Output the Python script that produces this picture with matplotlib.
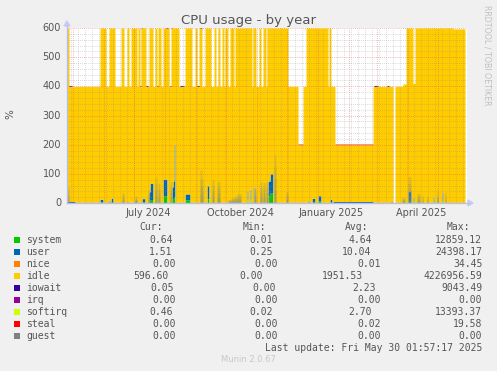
import numpy as np
import matplotlib
matplotlib.use("Agg")
import matplotlib.pyplot as plt
from matplotlib.patches import Rectangle, Polygon
from matplotlib.lines import Line2D
import datetime as dt

# ---------------- data (daily samples, day 0 = 2024-04-25) ----------------
N_DAYS = 400
START = dt.datetime(2024, 4, 25, 2, 0)

# stack-top level segments: (first_day, end_day, level)
level_segments = [
    (0, 2, 600), (2, 33, 400), (33, 39, 600), (39, 42, 400), (42, 48, 600),
    (48, 54, 400), (54, 57, 600), (57, 60, 400), (60, 62, 600), (62, 64, 400),
    (64, 70, 600), (70, 71, 400), (71, 73, 600), (73, 74, 400), (74, 79, 600),
    (79, 82, 400), (82, 86, 600), (86, 88, 400), (88, 90, 600), (90, 91, 400),
    (91, 94, 600), (94, 96, 400), (96, 102, 600), (102, 104, 400), (104, 112, 600),
    (112, 118, 400), (118, 125, 600), (125, 128, 400), (128, 130, 600), (130, 132, 400),
    (132, 135, 600), (135, 138, 400), (138, 144, 600), (144, 147, 400), (147, 149, 600),
    (149, 151, 400), (151, 153, 600), (153, 155, 400), (155, 157, 600), (157, 158, 400),
    (158, 161, 600), (161, 163, 400), (163, 167, 600), (167, 168, 400), (168, 185, 600),
    (185, 186, 400), (186, 189, 600), (189, 192, 400), (192, 194, 600), (194, 196, 400),
    (196, 199, 600), (199, 200, 400), (200, 221, 600), (221, 231, 400), (231, 236, 200),
    (236, 239, 400), (239, 261, 600), (261, 262, 400), (262, 264, 600), (264, 268, 400),
    (268, 306, 200), (306, 326, 400), (328, 336, 400), (336, 339, 406), (339, 346, 600),
    (346, 348, 410), (348, 386, 600), (386, 398, 597),
]

system_base = 0.8
user_base = 1.5
# (first_day, end_day, system, user)
spikes = [
    (0, 8, 1, 4), (33, 36, 4, 9), (42, 43, 2, 8), (44, 46, 3, 14), (60, 61, 1, 5),
    (68, 69, 2, 8), (75, 78, 4, 11), (82, 83, 8, 30), (83, 86, 12, 55),
    (96, 100, 25, 57), (105, 106, 15, 40), (106, 107, 15, 60), (107, 108, 20, 180),
    (118, 123, 11, 20), (140, 142, 14, 45), (180, 181, 10, 32), (183, 184, 10, 37),
    (187, 188, 12, 43), (201, 203, 25, 50), (203, 206, 34, 66), (241, 242, 2, 8),
    (245, 248, 4, 12), (251, 254, 7, 18), (263, 265, 3, 9), (266, 306, 1, 4),
    (324, 325, 1, 4), (341, 344, 9, 30), (346, 347, 4, 16), (366, 367, 4, 16),
    (370, 371, 5, 15), (375, 376, 8, 30),
]

# faded (blended) spikes: (first_day, end_day, height)
haze_spikes = [
    (0, 2, 56), (55, 57, 35), (68, 70, 24), (81, 83, 45), (88, 90, 90), (91, 93, 68),
    (103, 105, 73), (133, 135, 113), (135, 136, 80), (145, 147, 80), (150, 153, 73),
    (161, 164, 12), (164, 167, 18), (167, 170, 24), (170, 174, 33), (187, 189, 50),
    (193, 195, 73), (196, 198, 70), (199, 201, 73), (202, 203, 60), (207, 209, 165),
    (219, 221, 39), (335, 338, 20), (341, 344, 90), (350, 353, 33), (355, 356, 27),
    (360, 361, 27), (370, 371, 44), (378, 379, 39),
]

iowait_days = [2, 3, 4, 73, 74, 79, 80, 90, 99, 100, 103, 104, 113, 114, 115, 116,
               130, 131, 133, 134, 307, 308, 309, 310, 320, 321]
iowait_value = 3.0
softirq_days = [336, 337, 338, 360, 372, 380]
softirq_value = 3.0
steal_value = 2.0

# ---------------- build daily arrays ----------------
level = np.zeros(N_DAYS)
for a, b, v in level_segments:
    level[a:b] = v
valid = level > 0

system = np.where(valid, system_base, 0.0)
user = np.where(valid, user_base, 0.0)
for a, b, s, u in spikes:
    system[a:b] = s
    user[a:b] = u
nice = np.zeros(N_DAYS)
iowait = np.zeros(N_DAYS)
iowait[iowait_days] = iowait_value
irq = np.zeros(N_DAYS)
softirq = np.zeros(N_DAYS)
softirq[softirq_days] = softirq_value
steal = np.where(level == 200, steal_value, 0.0)
guest = np.zeros(N_DAYS)
idle = np.where(valid, level - system - user, 0.0)
haze = np.zeros(N_DAYS)
for a, b, h in haze_spikes:
    haze[a:b] = h

names = ["system", "user", "nice", "idle", "iowait", "irq", "softirq", "steal", "guest"]
colors = ["#00CC00", "#0066B3", "#FF8000", "#FFCC00", "#330099", "#990099",
          "#CCFF00", "#FF0000", "#808080"]
series = [system, user, nice, idle, iowait, irq, softirq, steal, guest]

cur = ["0.64", "1.51", "0.00", "596.60", "0.05", "0.00", "0.46", "0.00", "0.00"]
mins = ["0.01", "0.25", "0.00", "0.00", "0.00", "0.00", "0.02", "0.00", "0.00"]
avgs = ["4.64", "10.04", "0.01", "1951.53", "2.23", "0.00", "2.70", "0.02", "0.00"]
maxs = ["12859.12", "24398.17", "34.45", "4226956.59", "9043.49", "0.00",
        "13393.37", "19.58", "0.00"]

y_ticks = [0, 100, 200, 300, 400, 500, 600]
x_labels = ["July 2024", "October 2024", "January 2025", "April 2025"]
x_label_days = [81.5, 173.5, 264.5, 354.5]

# ---------------- figure ----------------
W, H = 497, 371
fig = plt.figure(figsize=(W / 100, H / 100), dpi=100)
fig.patch.set_facecolor("#F0F0F0")


def fx(x):
    return x / W


def fy(y):
    return 1 - y / H


L, R, T, B = 67, 467, 28, 203
ax = fig.add_axes([fx(L), fy(B), (R - L) / W, (B - T) / H])
ax.set_facecolor("white")
ax.set_xlim(0, N_DAYS)
ax.set_ylim(0, 600)
for s in ax.spines.values():
    s.set_visible(False)

edges = np.arange(N_DAYS + 1)


def ext(a):
    return np.append(a, a[-1])


base = np.zeros(N_DAYS)
for arr, col in zip(series, colors):
    top = base + arr
    ax.fill_between(edges, ext(base), ext(top), step="post", color=col,
                    linewidth=0, zorder=2)
    base = top

for frac in (1.0, 0.75, 0.5, 0.25):
    ax.fill_between(edges, 0, ext(haze * frac), step="post", color="#7A8C80",
                    alpha=0.22, linewidth=0, zorder=3)

# grid on top of data
grid_minor = dict(color="#8F8F8F", alpha=0.45, lw=0.6, dashes=(1, 1.5), zorder=5)
grid_major = dict(color="#E05050", alpha=0.55, lw=0.6, dashes=(1, 1.5), zorder=6)
for v in range(20, 600, 20):
    if v % 100:
        ax.axhline(v, **grid_minor)
for v in y_ticks[1:]:
    ax.axhline(v, **grid_major)

month_days = []
d = dt.datetime(2024, 5, 1)
while d < START + dt.timedelta(days=N_DAYS):
    month_days.append((d - START).total_seconds() / 86400)
    d = dt.datetime(d.year + (d.month // 12), d.month % 12 + 1, 1)
week_days = []
w = dt.datetime(2024, 4, 29)
while w < START + dt.timedelta(days=N_DAYS):
    week_days.append((w - START).total_seconds() / 86400)
    w += dt.timedelta(days=7)
for wd in week_days:
    ax.axvline(wd, **grid_minor)
for md in month_days:
    ax.axvline(md, **grid_major)

ax.set_xticks([])
ax.set_yticks([])

# axes lines + arrows
axis_col = "#B8BEE8"
fig.add_artist(Line2D([fx(L), fx(R + 2)], [fy(B), fy(B)], color=axis_col, lw=1))
fig.add_artist(Line2D([fx(L), fx(L)], [fy(B), fy(T - 3)], color=axis_col, lw=1))
fig.add_artist(Polygon([[fx(R + 6), fy(B)], [fx(R + 1), fy(B - 3)], [fx(R + 1), fy(B + 3)]],
                       closed=True, color="#C8CCF4", transform=fig.transFigure))
fig.add_artist(Polygon([[fx(L), fy(T - 7)], [fx(L - 3), fy(T - 2)], [fx(L + 3), fy(T - 2)]],
                       closed=True, color="#C8CCF4", transform=fig.transFigure))

txt = "#555555"
for v in y_ticks:
    yp = B - v / 600 * (B - T)
    fig.text(fx(61), fy(yp), str(v), ha="right", va="center", fontsize=7,
             color=txt, family="DejaVu Sans")
for lab, dd in zip(x_labels, x_label_days):
    fig.text(fx(L + dd), fy(212.5), lab, ha="center", va="center", fontsize=7,
             color=txt, family="DejaVu Sans")

fig.text(fx(248.5), fy(24), "CPU usage - by year", ha="center", va="baseline",
         fontsize=9.5, color=txt, family="DejaVu Sans")
fig.text(fx(10.5), fy(114), "%", ha="center", va="center", rotation=90, fontsize=7.5,
         color=txt, family="DejaVu Sans")
fig.text(fx(487.5), fy(5), "RRDTOOL / TOBI OETIKER", ha="center", va="top",
         rotation=270, fontsize=5.7, color="#C0C0C0", family="DejaVu Sans")

mono = "DejaVu Sans Mono"
fs = 7
hdr_y = 227.3
for lab, xr in zip(["Cur:", "Min:", "Avg:", "Max:"], [163.3, 266, 368.3, 470]):
    fig.text(fx(xr), fy(hdr_y), lab, ha="right", va="center", fontsize=fs,
             color=txt, family=mono)

row_y = [240, 252, 263.7, 275.7, 287.7, 299.7, 311.7, 323.7, 335.7]
cur_r = [172.7, 172.7, 175.7, 169, 174.3, 175.7, 172.7, 175.7, 175.7]
min_r = [272.7, 272.7, 278.3, 263.3, 275.7, 278.3, 272.7, 278.3, 278.3]
avg_r = [371.7, 371.7, 380.7, 363.3, 375.7, 380.7, 371.7, 380.7, 380.7]
max_r = [482.3] * 9
for i, nm in enumerate(names):
    yy = row_y[i]
    fig.add_artist(Rectangle((fx(14), fy(yy + 3)), 6 / W, 6 / H, color=colors[i],
                             transform=fig.transFigure, lw=0))
    fig.text(fx(26), fy(yy), nm, ha="left", va="center", fontsize=fs, color=txt, family=mono)
    for col, xr in ((cur, cur_r), (mins, min_r), (avgs, avg_r), (maxs, max_r)):
        fig.text(fx(xr[i]), fy(yy), col[i], ha="right", va="center", fontsize=fs,
                 color=txt, family=mono)

fig.text(fx(482.3), fy(347.7), "Last update: Fri May 30 01:57:17 2025", ha="right",
         va="center", fontsize=fs, color=txt, family=mono)
fig.text(fx(248.8), fy(360), "Munin 2.0.67", ha="center", va="center", fontsize=6,
         color="#C8C8C8", family="DejaVu Sans")

fig.savefig("out.png", dpi=100, facecolor=fig.get_facecolor())
